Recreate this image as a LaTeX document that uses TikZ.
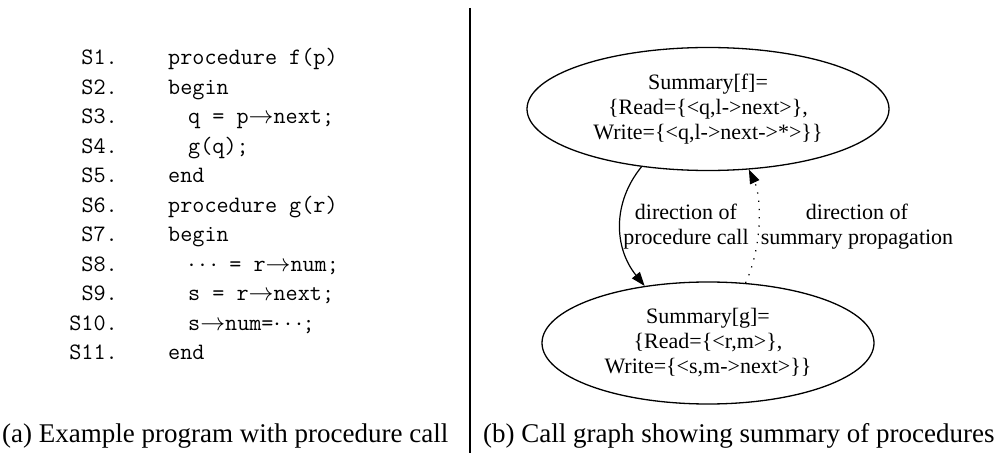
\documentclass[tikz,border=0pt]{standalone}
\usepackage{fontspec}
\setmainfont{Liberation Serif}
\setmonofont{Latin Modern Mono}
\usetikzlibrary{shapes.geometric,arrows.meta}
\tikzset{
  codelab/.style={anchor=base east,inner sep=0pt,font=\ttfamily\fontsize{23.5}{28}\selectfont},
  codetxt/.style={anchor=base west,inner sep=0pt,font=\ttfamily\fontsize{23.5}{28}\selectfont},
  gnode/.style={draw,ellipse,line width=1.3pt,inner sep=0pt,align=center,font=\fontsize{22}{25}\selectfont},
  elab/.style={inner sep=0pt,align=center,font=\fontsize{22}{25}\selectfont},
  captext/.style={anchor=base west,inner sep=0pt,font=\fontsize{27}{30}\selectfont},
  gvtip/.style={-{Triangle[length=14pt,width=10pt]}},
}
\begin{document}
\begin{tikzpicture}[x=1pt,y=1pt]
\useasboundingbox (0,0) rectangle (997,453);
% left panel: code
\node[codelab] (l1) at (118,388) {S1.};
\node[codetxt] (c1) at (168,388) {procedure f(p)};
\node[codelab] (l2) at (118,358.5) {S2.};
\node[codetxt] (c2) at (168,358.5) {begin};
\node[codelab] (l3) at (118,329) {S3.};
\node[codetxt] (c3) at (188,329) {q = p$\rightarrow$next;};
\node[codelab] (l4) at (118,299.5) {S4.};
\node[codetxt] (c4) at (188,299.5) {g(q);};
\node[codelab] (l5) at (118,270) {S5.};
\node[codetxt] (c5) at (168,270) {end};
\node[codelab] (l6) at (118,240.5) {S6.};
\node[codetxt] (c6) at (168,240.5) {procedure g(r)};
\node[codelab] (l7) at (118,211) {S7.};
\node[codetxt] (c7) at (168,211) {begin};
\node[codelab] (l8) at (118,181.5) {S8.};
\node[codetxt] (c8) at (188,181.5) {$\cdots$ = r$\rightarrow$num;};
\node[codelab] (l9) at (118,152) {S9.};
\node[codetxt] (c9) at (188,152) {s = r$\rightarrow$next;};
\node[codelab] (l10) at (118,122.5) {S10.};
\node[codetxt] (c10) at (188,122.5) {s$\rightarrow$num=$\cdots$;};
\node[codelab] (l11) at (118,93) {S11.};
\node[codetxt] (c11) at (168,93) {end};
% separator
\coordinate (sepTop) at (470,445);
\coordinate (sepBot) at (470,0);
\draw[line width=1.2pt] (sepTop) -- (sepBot);
% right panel: call graph
\node[gnode,minimum width=362,minimum height=123] (f) at (708,344)
  {Summary[f]=\\\{Read=\{<q,l->next>\},\\Write=\{<q,l->next->*>\}\}};
\node[gnode,minimum width=332,minimum height=122] (g) at (708,110)
  {Summary[g]=\\\{Read=\{<r,m>\},\\Write=\{<s,m->next>\}\}};
\node[elab] (lab1) at (686,226) {direction of\\procedure call};
\node[elab] (lab2) at (857,226) {direction of\\summary propagation};
\draw[gvtip,line width=1.2pt] (f.221) .. controls (612,250) and (614,205) .. (g.138);
\draw[gvtip,line width=1.2pt,dash pattern=on 1.3pt off 7pt] (g.58) .. controls (762,205) and (762,255) .. (f.304);
% captions
\node[captext] (capa) at (2,11) {(a) Example program with procedure call};
\node[captext] (capb) at (483,11) {(b) Call graph showing summary of procedures};
\end{tikzpicture}
\end{document}
